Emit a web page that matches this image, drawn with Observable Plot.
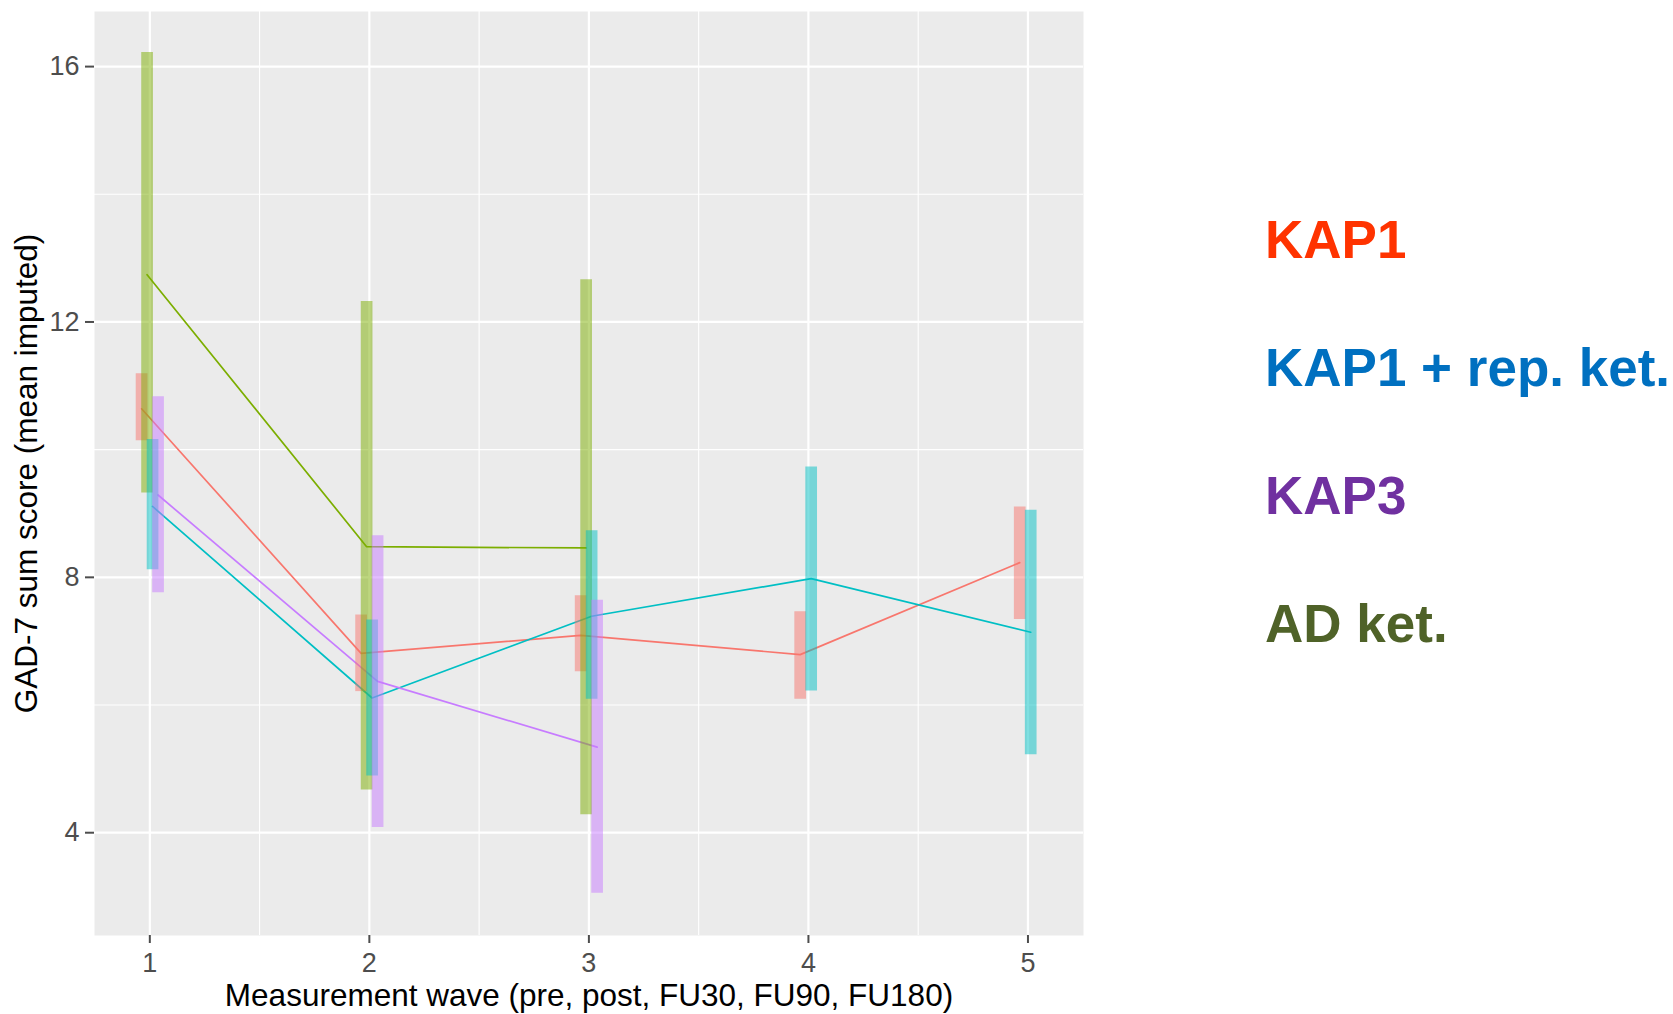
<!DOCTYPE html>
<html><head><meta charset="utf-8">
<script src="https://cdn.jsdelivr.net/npm/d3@7"></script>
<script src="https://cdn.jsdelivr.net/npm/@observablehq/plot@0.6"></script>
<style>
body{margin:0;background:#fff;}
#wrap{position:relative;width:1673px;height:1014px;overflow:hidden;background:#fff;}
#chart{position:absolute;left:0;top:0;}
.leg{position:absolute;left:1265px;font-family:"Liberation Sans",Arial,sans-serif;font-weight:bold;font-size:53px;line-height:53px;white-space:nowrap;}
</style></head><body>
<div id="wrap"><div id="chart"></div><div id="legend"></div></div>
<script>
// ---- data ----
const groups = ["KAP1", "AD ket.", "KAP1 + rep. ket.", "KAP3"];   // dodge / colour order
const groupColors = ["#F8766D", "#7CAE00", "#00BFC4", "#C77CFF"];
const waves = [1, 2, 3, 4, 5];
const xTicks = [1, 2, 3, 4, 5];
const yTicks = [4, 8, 12, 16];
const yMinor = [6, 10, 14];
const xMinor = [1.5, 2.5, 3.5, 4.5];

const meanKAP1 = [10.64, 6.81, 7.09, 6.79, 8.23];
const lowKAP1  = [10.14, 6.21, 6.52, 6.09, 7.34];
const highKAP1 = [11.19, 7.41, 7.71, 7.46, 9.10];

const meanAD = [12.74, 8.48, 8.46, null, null];
const lowAD  = [9.32, 4.67, 4.28, null, null];
const highAD = [16.22, 12.32, 12.66, null, null];

const meanRep = [9.11, 6.11, 7.39, 7.98, 7.14];
const lowRep  = [8.12, 4.89, 6.09, 6.22, 5.22];
const highRep = [10.16, 7.33, 8.73, 9.73, 9.05];

const meanKAP3 = [9.29, 6.37, 5.34, null, null];
const lowKAP3  = [7.76, 4.08, 3.05, null, null];
const highKAP3 = [10.83, 8.65, 7.64, null, null];

const legendLabels = ["KAP1", "KAP1 + rep. ket.", "KAP3", "AD ket."];
const legendColors = ["#FF3300", "#0070C0", "#7030A0", "#4F6228"];

const xTitle = "Measurement wave (pre, post, FU30, FU90, FU180)";
const yTitle = "GAD-7 sum score (mean imputed)";

// ---- build table ----
const series = [
  [meanKAP1, lowKAP1, highKAP1],
  [meanAD, lowAD, highAD],
  [meanRep, lowRep, highRep],
  [meanKAP3, lowKAP3, highKAP3]
];
const dodgeWidth = 0.1;
const rows = [];
groups.forEach((g, gi) => {
  const [m, lo, hi] = series[gi];
  waves.forEach((w, wi) => {
    if (m[wi] == null) return;
    rows.push({group: g, wave: w, xd: w + (gi - (groups.length - 1) / 2) * dodgeWidth / groups.length,
               mean: m[wi], lo: lo[wi], hi: hi[wi]});
  });
});

const FONT = '"Liberation Sans", Arial, sans-serif';
const TICKFONT = 27;

const plot = Plot.plot({
  width: 1110,
  height: 1014,
  marginLeft: 94,
  marginRight: 27,
  marginTop: 11,
  marginBottom: 79,
  style: {fontFamily: FONT, background: "transparent"},
  x: {domain: [0.748, 5.253], label: null},
  y: {domain: [2.39, 16.863], label: null},
  color: {domain: groups, range: groupColors},
  marks: [
    Plot.frame({fill: "#EBEBEB", stroke: null}),
    Plot.gridX(xMinor, {stroke: "white", strokeOpacity: 1, strokeWidth: 1.1}),
    Plot.gridY(yMinor, {stroke: "white", strokeOpacity: 1, strokeWidth: 1.1}),
    Plot.gridX(xTicks, {stroke: "white", strokeOpacity: 1, strokeWidth: 2.2}),
    Plot.gridY(yTicks, {stroke: "white", strokeOpacity: 1, strokeWidth: 2.2}),
    Plot.line(rows, {x: "xd", y: "mean", z: "group", stroke: "group", strokeWidth: 1.7}),
    Plot.ruleX(rows, {x: "xd", y1: "lo", y2: "hi", stroke: "group", strokeWidth: 11.7, strokeOpacity: 0.5}),
    Plot.axisX(xTicks, {tickSize: 8, tickPadding: 9, fontSize: TICKFONT, color: "#4D4D4D", strokeWidth: 2, label: null, tickFormat: d => String(d)}),
    Plot.axisY(yTicks, {tickSize: 9, tickPadding: 6, fontSize: TICKFONT, color: "#4D4D4D", strokeWidth: 2, label: null, tickFormat: d => String(d)}),
    Plot.text([xTitle], {frameAnchor: "bottom", dy: 70, fontSize: 31.5, fill: "black", textAnchor: "middle"}),
    Plot.text([yTitle], {frameAnchor: "left", dx: -68, rotate: -90, fontSize: 31.5, fill: "black", textAnchor: "middle"})
  ]
});
// make sure tick-label font size is applied
plot.querySelectorAll('g[aria-label="x-axis tick label"] text, g[aria-label="y-axis tick label"] text').forEach(t => {
  t.setAttribute("font-size", String(TICKFONT));
  t.style.fontSize = TICKFONT + "px";
});
document.getElementById("chart").appendChild(plot);

// ---- legend (text beside the chart) ----
const legend = document.getElementById("legend");
legendLabels.forEach((t, i) => {
  const d = document.createElement("div");
  d.className = "leg";
  d.textContent = t;
  d.style.color = legendColors[i];
  d.style.top = (213 + i * 128) + "px";
  legend.appendChild(d);
});
</script>
</body></html>
